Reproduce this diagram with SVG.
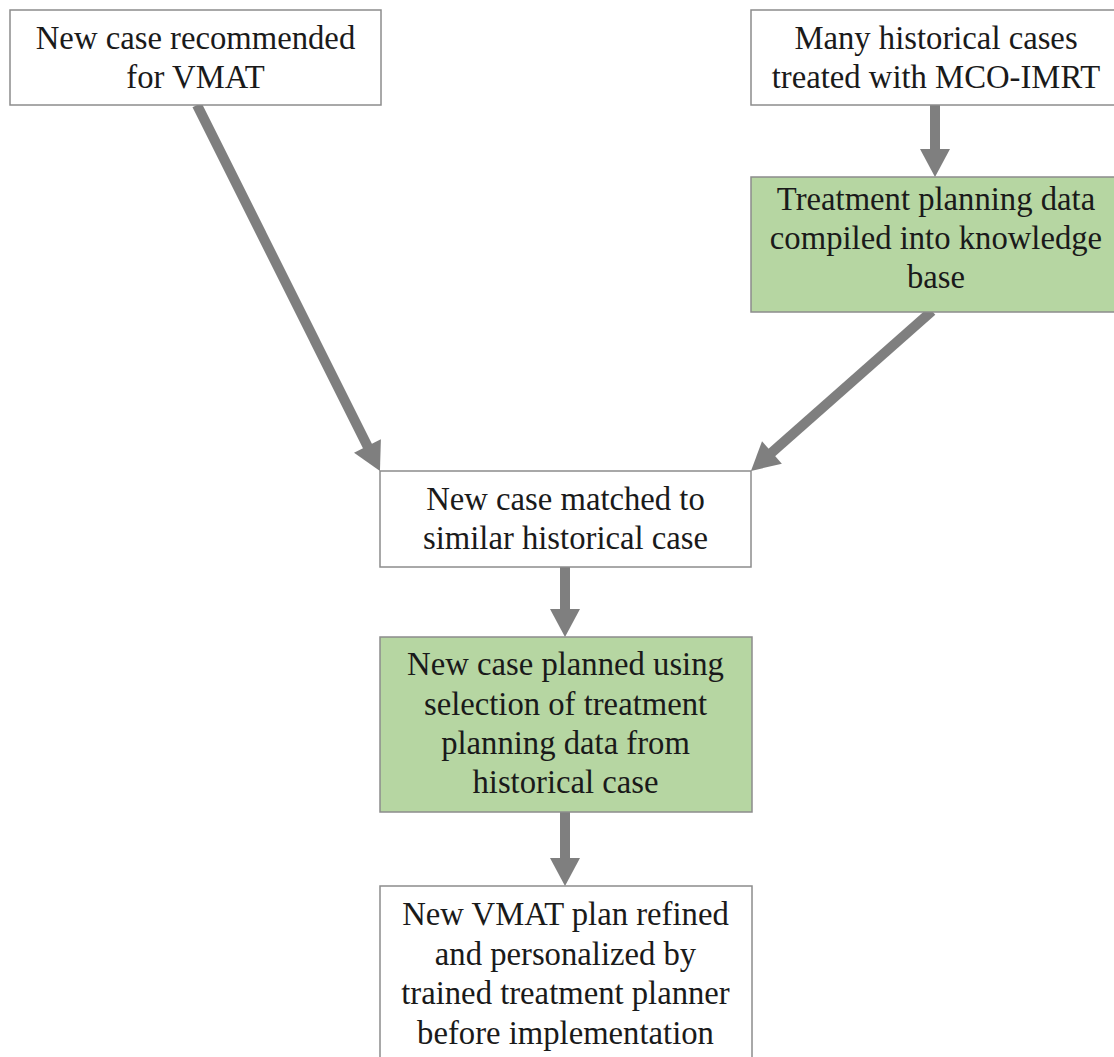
<svg xmlns="http://www.w3.org/2000/svg" width="1114" height="1057" viewBox="0 0 1114 1057">
<defs>
<style>
.box{fill:#ffffff;stroke:#8c8c8c;stroke-width:1.5}
.green{fill:#b6d6a2;stroke:#8c8c8c;stroke-width:1.5}
.t{font-family:"Liberation Serif","Times New Roman",serif;font-size:32.7px;fill:#1a1a1a;text-anchor:middle}
.conn{stroke:#7f7f7f;stroke-width:10;fill:none;marker-end:url(#head)}
</style>
<marker id="head" markerUnits="userSpaceOnUse" markerWidth="28" markerHeight="30" viewBox="0 0 28 30" refX="1" refY="15" orient="auto" overflow="visible">
<path d="M0,0 L28,15 L0,30 z" fill="#7f7f7f"/>
</marker>
</defs>
<rect width="1114" height="1057" fill="#ffffff"/>
<g id="connectors">
<line class="conn" x1="197" y1="105" x2="367.9" y2="446.9"/>
<line class="conn" x1="932" y1="311" x2="771.2" y2="453.1"/>
<line class="conn" x1="935" y1="105" x2="935" y2="150"/>
<line class="conn" x1="565" y1="567" x2="565" y2="610"/>
<line class="conn" x1="565" y1="812" x2="565" y2="859"/>
</g>
<g id="node-new-case">
<rect class="box" x="10" y="10" width="371" height="95"/>
<text class="t" x="195.5" y="49">New case recommended</text>
<text class="t" x="195.5" y="88">for VMAT</text>
</g>
<g id="node-historical">
<rect class="box" x="751" y="10" width="370" height="95"/>
<text class="t" x="936" y="49">Many historical cases</text>
<text class="t" x="936" y="88">treated with MCO-IMRT</text>
</g>
<g id="node-knowledge-base">
<rect class="green" x="751" y="177" width="370" height="135"/>
<text class="t" x="936" y="210">Treatment planning data</text>
<text class="t" x="936" y="249">compiled into knowledge</text>
<text class="t" x="936" y="288">base</text>
</g>
<g id="node-matched">
<rect class="box" x="380" y="471" width="371" height="96"/>
<text class="t" x="565.5" y="510">New case matched to</text>
<text class="t" x="565.5" y="549">similar historical case</text>
</g>
<g id="node-planned">
<rect class="green" x="380" y="637" width="372" height="175"/>
<text class="t" x="565.5" y="675">New case planned using</text>
<text class="t" x="565.5" y="715">selection of treatment</text>
<text class="t" x="565.5" y="754">planning data from</text>
<text class="t" x="565.5" y="793">historical case</text>
</g>
<g id="node-refined">
<rect class="box" x="380" y="886" width="372" height="190"/>
<text class="t" x="565.5" y="925">New VMAT plan refined</text>
<text class="t" x="565.5" y="965">and personalized by</text>
<text class="t" x="565.5" y="1004">trained treatment planner</text>
<text class="t" x="565.5" y="1044">before implementation</text>
</g>
</svg>
